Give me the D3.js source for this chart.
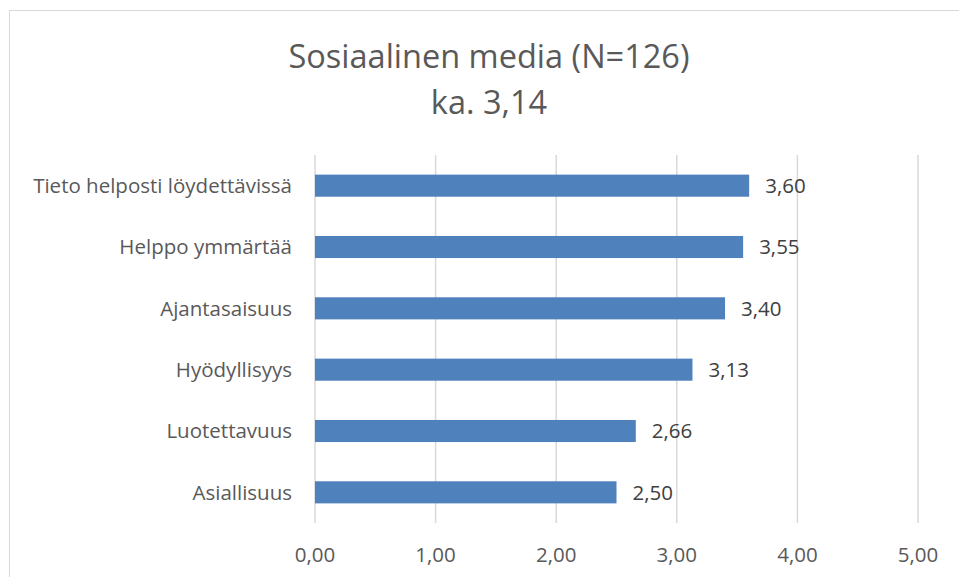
<!DOCTYPE html>
<html><head><meta charset="utf-8">
<script src="https://cdn.jsdelivr.net/npm/d3@7"></script>
<style>body{margin:0;background:#fff}svg{display:block}</style>
</head><body>
<script>
const categories = ["Tieto helposti löydettävissä","Helppo ymmärtää","Ajantasaisuus","Hyödyllisyys","Luotettavuus","Asiallisuus"];
const values = [3.60,3.55,3.40,3.13,2.66,2.50];
const tickValues = [0,1,2,3,4,5];
const titleLines = ["Sosiaalinen media (N=126)","ka. 3,14"];

const W=959,H=577;
const font="'Open Sans', 'Liberation Sans', sans-serif";
const fmt = v => v.toFixed(2).replace(".",",");
const svg=d3.select("body").append("svg").attr("width",W).attr("height",H);
svg.append("rect").attr("x",9.5).attr("y",10.5).attr("width",W).attr("height",H).attr("fill","#fff").attr("stroke","#d9d9d9");

const x=d3.scaleLinear().domain([0,5]).range([315,918]);
const y=d3.scaleBand().domain(categories).range([155,523]).paddingInner(0.64).paddingOuter(0.32);

svg.append("g").selectAll("line").data(tickValues).join("line")
 .attr("x1",d=>x(d)).attr("x2",d=>x(d)).attr("y1",155).attr("y2",523)
 .attr("stroke","#d9d9d9").attr("stroke-width",1.5);

svg.append("g").selectAll("rect").data(values).join("rect")
 .attr("x",x(0)).attr("y",(d,i)=>y(categories[i])).attr("width",d=>x(d)-x(0)).attr("height",y.bandwidth())
 .attr("fill","#4f81bd");

const fs=20.5;
svg.append("g").selectAll("text").data(values).join("text")
 .attr("x",d=>x(d)+16).attr("y",(d,i)=>y(categories[i])+y.bandwidth()/2).attr("dy","0.36em")
 .attr("font-family",font).attr("font-size",fs).attr("fill","#404040").text(d=>fmt(d));

svg.append("g").selectAll("text").data(categories).join("text")
 .attr("x",292).attr("y",d=>y(d)+y.bandwidth()/2).attr("dy","0.36em").attr("text-anchor","end")
 .attr("font-family",font).attr("font-size",fs).attr("fill","#595959").text(d=>d);

svg.append("g").selectAll("text").data(tickValues).join("text")
 .attr("x",d=>x(d)).attr("y",555).attr("dy","0.36em").attr("text-anchor","middle")
 .attr("font-family",font).attr("font-size",fs).attr("fill","#595959").text(d=>fmt(d));

svg.append("g").selectAll("text").data(titleLines).join("text")
 .attr("x",489).attr("y",(d,i)=>56+i*46).attr("dy","0.36em").attr("text-anchor","middle")
 .attr("font-family",font).attr("font-size",32.5).attr("fill","#595959").text(d=>d);
</script>
</body></html>
